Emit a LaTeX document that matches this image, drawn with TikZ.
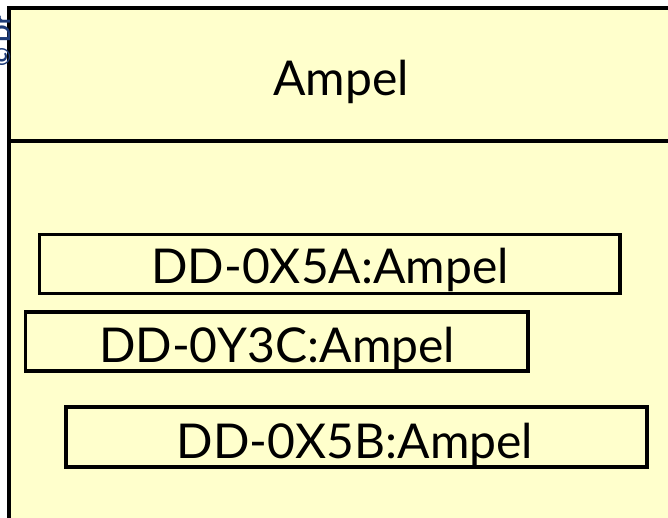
\documentclass[tikz,border=0pt]{standalone}
\usepackage{fontspec}
\setmainfont{Lato}
\definecolor{noteyellow}{RGB}{255,255,204}
\definecolor{copyblue}{RGB}{30,60,120}
\begin{document}
\begin{tikzpicture}[x=1pt,y=-1pt,
  objbox/.style={draw=black,line width=3.6pt,fill=noteyellow,rectangle},
  lbl/.style={font=\fontsize{48}{52}\selectfont,inner sep=0pt,anchor=base}]
\useasboundingbox (0,0) rectangle (668,518);
\fill[white] (0,0) rectangle (668,518);
% outer class box
\fill[noteyellow] (9,8) rectangle (690,540);
\draw[line width=4pt] (9,540) -- (9,8) -- (690,8);
\draw[line width=4pt] (9,141) -- (690,141);
\node[lbl] (title) at (341,96) {Ampel};
% copyright strip
\node[rotate=90,text=copyblue,font=\fontsize{23}{25}\selectfont\bfseries,anchor=base west,inner sep=0pt] (copy) at (10,67) {© Dr};
% instances
\draw[objbox] (39.5,234.5) rectangle (620,293.5);
\node[lbl] (a) at (330,283) {DD-0X5A:Ampel};
\draw[objbox] (25.5,312) rectangle (528,371);
\node[lbl] (b) at (277,362) {DD-0Y3C:Ampel};
\draw[objbox] (66,407) rectangle (647,467);
\node[lbl] (c) at (355,458) {DD-0X5B:Ampel};
\end{tikzpicture}
\end{document}
